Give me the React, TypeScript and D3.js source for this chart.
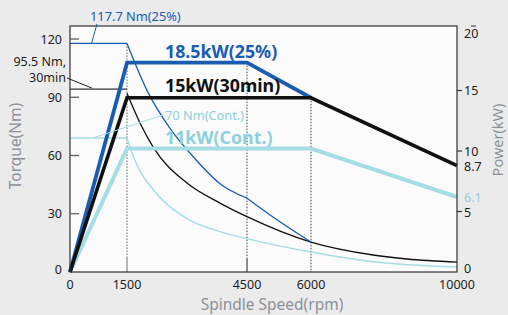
import React from "react";
import * as d3 from "d3";

const speedTicks = [0, 1500, 4500, 6000, 10000];
const torqueTicks = [0, 30, 60, 90, 120];
const powerTicks = [0, 5, 10, 15, 20];

// Power curves (kW)
const power25Speed = [0, 1500, 4500, 6000];
const power25 = [0, 17.3, 17.3, 14.4];
const power30Speed = [0, 1500, 6000, 10000];
const power30 = [0, 14.4, 14.4, 8.8];
const powerContSpeed = [0, 1500, 6000, 10000];
const powerCont = [0, 10.2, 10.2, 6.2];

// Torque curves (Nm)
const torque25FlatSpeed = [0, 1500];
const torque25Flat = [117.7, 117.7];
const torque25Speed = [1500, 2025, 2575, 3150, 3825, 4500];
const torque25 = [117.7, 92.5, 74, 59.5, 45.5, 38];
const torque25TailSpeed = [4500, 5109, 6000];
const torque25Tail = [38, 28.3, 15.4];

const torque30FlatSpeed = [0, 1500];
const torque30Flat = [94.2, 94.2];
const torque30Speed = [1500, 1825, 2150, 3000, 3825, 4500, 6000, 7700, 8630, 10000];
const torque30 = [92, 76.7, 64.4, 45.8, 35.5, 28.5, 15.4, 8.75, 6.7, 5.1];

const torqueContFlatSpeed = [0, 1500];
const torqueContFlat = [69, 69];
const torqueContSpeed = [1500, 1650, 1800, 2150, 3000, 3825, 4500, 6000, 7700, 10000];
const torqueCont = [69, 60, 53, 42.5, 27.5, 20.8, 17.2, 10.3, 5.3, 2.6];

const BLUE = "#1a5cb0";
const LIGHT = "#a6dce4";
const LIGHT_TEXT = "#8fd0dc";
const BLACK = "#111111";
const GRAY_TITLE = "#8b9099";
const FONT = "'Noto Sans', 'Open Sans', sans-serif";

export default function App() {
  const W = 508, H = 315;
  const left = 70, right = 457, top = 26, bottom = 272;
  const x = d3.scaleLinear().domain([0, 1500, 4500, 6000, 10000]).range([70, 127, 247, 311, 457]);
  const yT = d3.scaleLinear().domain([0, 120]).range([272, 39]);
  const yP = d3.scaleLinear().domain([0, 20]).range([272, 30]);

  const linP = (s: number[], v: number[]) =>
    d3.line<number>().x((_, i) => x(s[i])).y((d) => yP(d))(v) as string;
  const linT = (s: number[], v: number[]) =>
    d3.line<number>().x((_, i) => x(s[i])).y((d) => yT(d))(v) as string;
  const curT = (s: number[], v: number[]) =>
    d3.line<number>().x((_, i) => x(s[i])).y((d) => yT(d)).curve(d3.curveMonotoneX)(v) as string;

  const tickFont = { fontFamily: FONT, fontSize: 12.5, fill: "#222" } as const;

  return (
    <svg width={W} height={H} style={{ position: "absolute", left: 0, top: 0 }} fontFamily={FONT}>
      <rect x={0} y={0} width={W} height={H} fill="#ebebeb" />
      <rect x={left} y={top} width={right - left} height={bottom - top} fill="#fbfbfb" />

      {/* dotted verticals */}
      <line x1={x(1500)} x2={x(1500)} y1={yT(117.7)} y2={258} stroke="#666" strokeDasharray="1.5,1.5" />
      <line x1={x(4500)} x2={x(4500)} y1={yP(17.3)} y2={258} stroke="#444" strokeDasharray="1.5,1.5" />
      <line x1={x(6000)} x2={x(6000)} y1={yP(14.4)} y2={bottom} stroke="#444" strokeDasharray="1.5,1.5" />
      <line x1={x(1500)} x2={x(1500)} y1={258} y2={bottom} stroke="#888" strokeWidth={1.2} />
      <line x1={x(4500)} x2={x(4500)} y1={258} y2={bottom} stroke="#444" strokeWidth={1.2} />

      {/* thin torque curves */}
      <path d={linT(torqueContFlatSpeed, torqueContFlat)} fill="none" stroke={LIGHT} strokeWidth={1.4} />
      <path d={curT(torqueContSpeed, torqueCont)} fill="none" stroke={LIGHT} strokeWidth={1.4} />
      <path d={linT(torque30FlatSpeed, torque30Flat)} fill="none" stroke="#333" strokeWidth={1.3} />
      <path d={curT(torque30Speed, torque30)} fill="none" stroke={BLACK} strokeWidth={1.3} />
      <path d={linT(torque25FlatSpeed, torque25Flat)} fill="none" stroke={BLUE} strokeWidth={1.3} />
      <path d={curT(torque25Speed, torque25)} fill="none" stroke={BLUE} strokeWidth={1.3} />
      <path d={curT(torque25TailSpeed, torque25Tail)} fill="none" stroke={BLUE} strokeWidth={1.3} />

      {/* thick power curves */}
      <path d={linP(powerContSpeed, powerCont)} fill="none" stroke={LIGHT} strokeWidth={4} />
      <path d={linP(power25Speed, power25)} fill="none" stroke={BLUE} strokeWidth={3.8} />
      <path d={linP(power30Speed, power30)} fill="none" stroke={BLACK} strokeWidth={3.6} />

      {/* frame */}
      <rect x={left} y={top} width={right - left} height={bottom - top} fill="none" stroke="#333" strokeWidth={1.2} />

      {/* left ticks */}
      {torqueTicks.map((t) => (
        <g key={"t" + t}>
          {t > 0 && <line x1={left} x2={left + 9} y1={yT(t)} y2={yT(t)} stroke="#555" strokeWidth={1.2} />}
          <text x={62} y={yT(t) - (t === 0 ? 3 : 0)} textAnchor="end" dominantBaseline="central" {...tickFont}>{t}</text>
        </g>
      ))}
      {/* right ticks */}
      {powerTicks.map((p) => (
        <g key={"p" + p}>
          {p > 0 && p < 20 && <line x1={right} x2={right + 5} y1={yP(p)} y2={yP(p)} stroke="#333" strokeWidth={1.2} />}
          <text x={464} y={yP(p) + (p === 20 ? 3 : p === 0 ? -4 : p === 5 ? 1 : 0)} textAnchor="start" dominantBaseline="central" {...tickFont}>{p}</text>
        </g>
      ))}
      <line x1={471} x2={476} y1={26} y2={26} stroke="#333" strokeWidth={1} />
      <text x={464} y={yP(8.7)} textAnchor="start" dominantBaseline="central" {...tickFont}>8.7</text>
      <text x={464} y={yP(6.1) - 1} textAnchor="start" dominantBaseline="central" {...tickFont} fill={LIGHT_TEXT}>6.1</text>

      {/* x tick labels */}
      {speedTicks.map((s) => (
        <text key={"s" + s} x={x(s)} y={284} textAnchor="middle" dominantBaseline="central" {...tickFont}>{s}</text>
      ))}

      {/* axis titles */}
      <text x={272} y={304} textAnchor="middle" dominantBaseline="central" fontSize={15.5} fill={GRAY_TITLE}>Spindle Speed(rpm)</text>
      <text transform="translate(15,146) rotate(-90)" textAnchor="middle" dominantBaseline="central" fontSize={15.5} fill={GRAY_TITLE}>Torque(Nm)</text>
      <text transform="translate(497,140) rotate(-90)" textAnchor="middle" dominantBaseline="central" fontSize={14.5} fill={GRAY_TITLE}>Power(kW)</text>

      {/* series labels */}
      <text x={165} y={51} dominantBaseline="central" fontSize={17.8} fontWeight="bold" fill={BLUE}>18.5kW(25%)</text>
      <text x={165} y={85} dominantBaseline="central" fontSize={17.8} fontWeight="bold" fill={BLACK}>15kW(30min)</text>
      <text x={165} y={137} dominantBaseline="central" fontSize={17.8} fontWeight="bold" fill={LIGHT_TEXT}>11kW(Cont.)</text>

      {/* annotations */}
      <text x={90} y={16} dominantBaseline="central" fontSize={12.8} fill={BLUE}>117.7 Nm(25%)</text>
      <line x1={97} y1={24} x2={91.5} y2={yT(117.7)} stroke={BLUE} strokeWidth={1} />
      <text x={66} y={61} textAnchor="end" dominantBaseline="central" fontSize={12.5} fill="#222">95.5 Nm,</text>
      <text x={66} y={77} textAnchor="end" dominantBaseline="central" fontSize={12.5} fill="#222">30min</text>
      <line x1={67} y1={78} x2={92} y2={yT(94.2) - 1} stroke="#222" strokeWidth={1} />
      <text x={165} y={115} dominantBaseline="central" fontSize={12.8} fill={LIGHT_TEXT}>70 Nm(Cont.)</text>
      <line x1={163} y1={115} x2={93} y2={yT(69)} stroke={LIGHT} strokeWidth={1} />
    </svg>
  );
}
